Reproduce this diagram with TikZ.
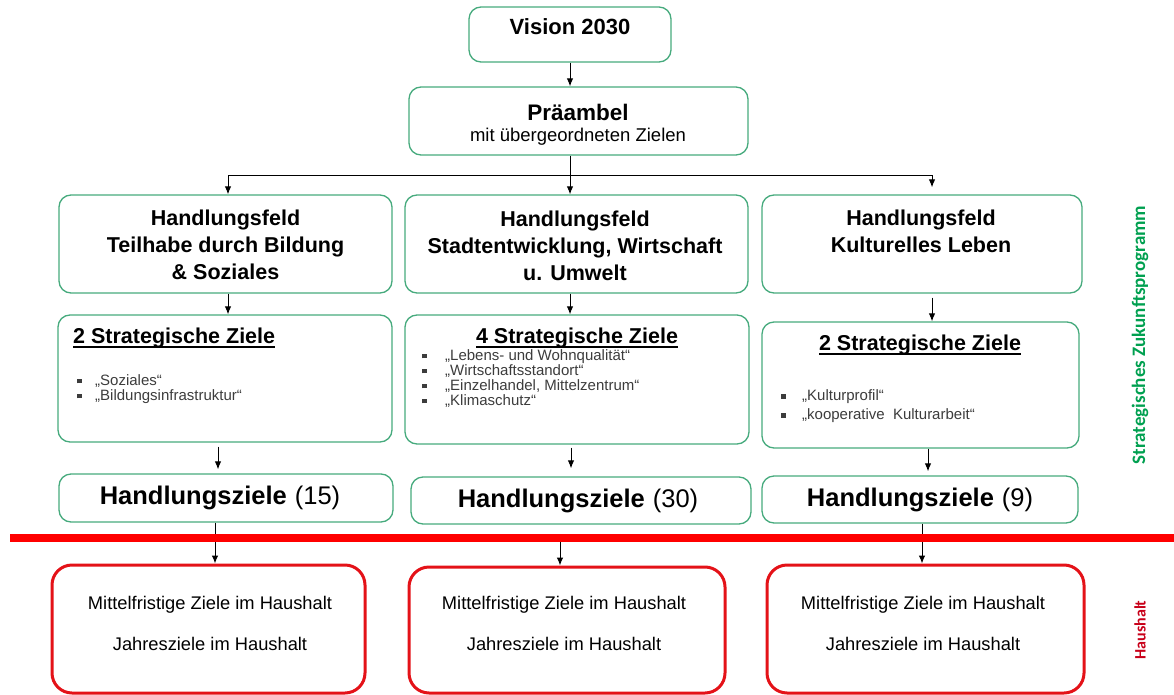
\documentclass[tikz,border=0pt]{standalone}
\usepackage{fontspec}
\setmainfont{Liberation Sans}
\newfontfamily\calibfont{Carlito}
\usetikzlibrary{positioning,arrows.meta}

\definecolor{boxgreen}{RGB}{70,170,125}
\definecolor{boxred}{RGB}{228,18,24}
\definecolor{linered}{RGB}{255,0,0}
\definecolor{labelgreen}{RGB}{0,160,80}
\definecolor{labelred}{RGB}{200,0,25}
\definecolor{listgray}{RGB}{60,60,60}

\newcommand{\sqbul}{\raisebox{0.25ex}{\rule{4.5pt}{4.5pt}}}
\newcommand{\bitem}[2][20pt]{\makebox[#1][l]{\sqbul}#2}
\newcommand{\ulbold}[1]{\sbox0{#1}\rlap{\rule[-4.5pt]{\wd0}{2pt}}\usebox0}

\begin{document}
\begin{tikzpicture}[x=1pt, y=-1pt,
    gbox/.style={rectangle, draw=boxgreen, line width=1.3pt, rounded corners=12pt, inner sep=0pt},
    rbox/.style={rectangle, draw=boxred, line width=3pt, rounded corners=20pt, inner sep=0pt},
    head/.style={font=\fontsize{21.5}{27}\selectfont\bfseries, align=center, inner sep=0pt},
    sub/.style={font=\fontsize{18.5}{22}\selectfont, align=center, inner sep=0pt},
    list/.style={font=\fontsize{15}{15}\selectfont, text=listgray, align=left, anchor=west, inner sep=0pt},
    plain/.style={font=\fontsize{18.3}{22}\selectfont, inner sep=0pt},
    goal/.style={font=\fontsize{25.5}{28}\selectfont, inner sep=0pt},
    side/.style={font=\calibfont\bfseries\fontsize{19}{19}\selectfont, rotate=90, inner sep=0pt},
    arrow/.style={-{Latex[length=8pt,width=6.5pt]}, line width=1pt}]

    \useasboundingbox (0,0) rectangle (1174,695);

    % column positions of the connectors
    \coordinate (colA) at (228,0);
    \coordinate (colB) at (570,0);
    \coordinate (colC) at (932,0);
    \coordinate (colD) at (218,0);
    \coordinate (colE) at (571,0);
    \coordinate (colF) at (928,0);
    \coordinate (colG) at (215,0);
    \coordinate (colH) at (560,0);
    \coordinate (colI) at (922,0);

    % Vision and preamble
    \node[gbox, minimum width=202pt, minimum height=55pt] (vision) at (570,34.5) {};
    \node[head, font=\fontsize{22}{27}\selectfont\bfseries] (visiontxt) at (570,27) {Vision 2030};
    \node[gbox, minimum width=339pt, minimum height=68pt] (praeambel) at (578.5,121) {};
    \node[head, font=\fontsize{22.5}{27}\selectfont\bfseries] (praeambeltxt) at (578,112) {Präambel};
    \node[sub] (praeambelsub) at (578,137) {mit übergeordneten Zielen};

    % fields of action
    \node[gbox, minimum width=333pt, minimum height=98pt] (field1) at (225.5,244) {};
    \node[head] (field1txt) at (225.5,245) {Handlungsfeld\\Teilhabe durch Bildung\\\& Soziales};
    \node[gbox, minimum width=343pt, minimum height=98pt] (field2) at (576.5,244) {};
    \node[head] (field2txt) at (575,246) {Handlungsfeld\\Stadtentwicklung, Wirtschaft\\u. Umwelt};
    \node[gbox, minimum width=320pt, minimum height=98pt] (field3) at (922,244) {};
    \node[head] (field3txt) at (921,231.5) {Handlungsfeld\\Kulturelles Leben};

    % strategic goals
    \node[gbox, minimum width=334pt, minimum height=127pt] (strat1) at (225,378.5) {};
    \node[head, anchor=west] (strat1title) at (73,338) {\ulbold{2 Strategische Ziele}};
    \node[list] (strat1list) at (77,389) {\bitem[18pt]{„Soziales“}\\\bitem[18pt]{„Bildungsinfrastruktur“}};
    \node[gbox, minimum width=344pt, minimum height=129pt] (strat2) at (577,379.5) {};
    \node[head] (strat2title) at (577,338) {\ulbold{4 Strategische Ziele}};
    \node[list] (strat2list) at (422,378.5) {\bitem[23pt]{„Lebens- und Wohnqualität“}\\\bitem[23pt]{„Wirtschaftsstandort“}\\\bitem[23pt]{„Einzelhandel, Mittelzentrum“}\\\bitem[23pt]{„Klimaschutz“}};
    \node[gbox, minimum width=317pt, minimum height=126pt] (strat3) at (920.5,385) {};
    \node[head] (strat3title) at (920,345) {\ulbold{2 Strategische Ziele}};
    \node[list, font=\fontsize{15}{19}\selectfont] (strat3list) at (781,406.5) {\bitem[21pt]{„Kulturprofil“}\\\bitem[21pt]{„kooperative\ \ Kulturarbeit“}};

    % goals of action
    \node[gbox, minimum width=334pt, minimum height=48pt] (hz1) at (226,498) {};
    \node[goal] (hz1txt) at (220,498) {\textbf{Handlungsziele}\hspace{8pt}(15)};
    \node[gbox, minimum width=340pt, minimum height=47pt] (hz2) at (581,500.5) {};
    \node[goal] (hz2txt) at (578,500.5) {\textbf{Handlungsziele}\hspace{8pt}(30)};
    \node[gbox, minimum width=316pt, minimum height=47pt] (hz3) at (920,499.5) {};
    \node[goal] (hz3txt) at (920,499.5) {\textbf{Handlungsziele}\hspace{8pt}(9)};

    % budget boxes
    \node[rbox, minimum width=313pt, minimum height=128pt] (rb1) at (208.5,629) {};
    \node[plain] (rb1mid) at (210,605) {Mittelfristige Ziele im Haushalt};
    \node[plain] (rb1year) at (210,644) {Jahresziele im Haushalt};
    \node[rbox, minimum width=316pt, minimum height=126pt] (rb2) at (567,630) {};
    \node[plain] (rb2mid) at (564,605) {Mittelfristige Ziele im Haushalt};
    \node[plain] (rb2year) at (564,644) {Jahresziele im Haushalt};
    \node[rbox, minimum width=317pt, minimum height=128pt] (rb3) at (925.5,629) {};
    \node[plain] (rb3mid) at (923,605) {Mittelfristige Ziele im Haushalt};
    \node[plain] (rb3year) at (923,644) {Jahresziele im Haushalt};

    % connectors
    \draw[arrow] (vision) -- (vision |- praeambel.north);
    \coordinate (split) at (570,176);
    \draw[line width=1pt] (split |- praeambel.south) -- (split);
    \draw[arrow] (split) -- (split |- field2.north);
    \draw[arrow] (split) -| (field1.north -| colA);
    \draw[arrow] (split) -| ([yshift=7pt]field3.north -| colC);
    \draw[arrow] (field1.south -| colA) -- (strat1.north -| colA);
    \draw[arrow] (field2.south -| colB) -- (strat2.north -| colB);
    \draw[arrow, shorten <=4pt] (field3.south -| colC) -- (strat3.north -| colC);
    \draw[arrow, shorten <=4pt, shorten >=4pt] (strat1.south -| colD) -- (hz1.north -| colD);
    \draw[arrow, shorten <=3pt, shorten >=8pt] (strat2.south -| colE) -- (hz2.north -| colE);
    \draw[arrow, shorten >=4pt] (strat3.south -| colF) -- (hz3.north -| colF);

    % dividing line between programme and budget
    \coordinate (cutL) at (10,538);
    \coordinate (cutR) at (1174,538);
    \draw[arrow] (hz1.south -| colG) -- (rb1.north -| colG);
    \draw[arrow] (cutL -| colH) -- (rb2.north -| colH);
    \draw[arrow] (hz3.south -| colI) -- (rb3.north -| colI);
    \draw[linered, line width=8pt] (cutL) -- (cutR);

    % side labels
    \node[side, text=labelgreen] (progtxt) at (1140,335) {Strategisches Zukunftsprogramm};
    \node[side, text=labelred, font=\calibfont\bfseries\fontsize{16}{16}\selectfont] (haushalttxt) at (1140,630) {Haushalt};
\end{tikzpicture}
\end{document}
